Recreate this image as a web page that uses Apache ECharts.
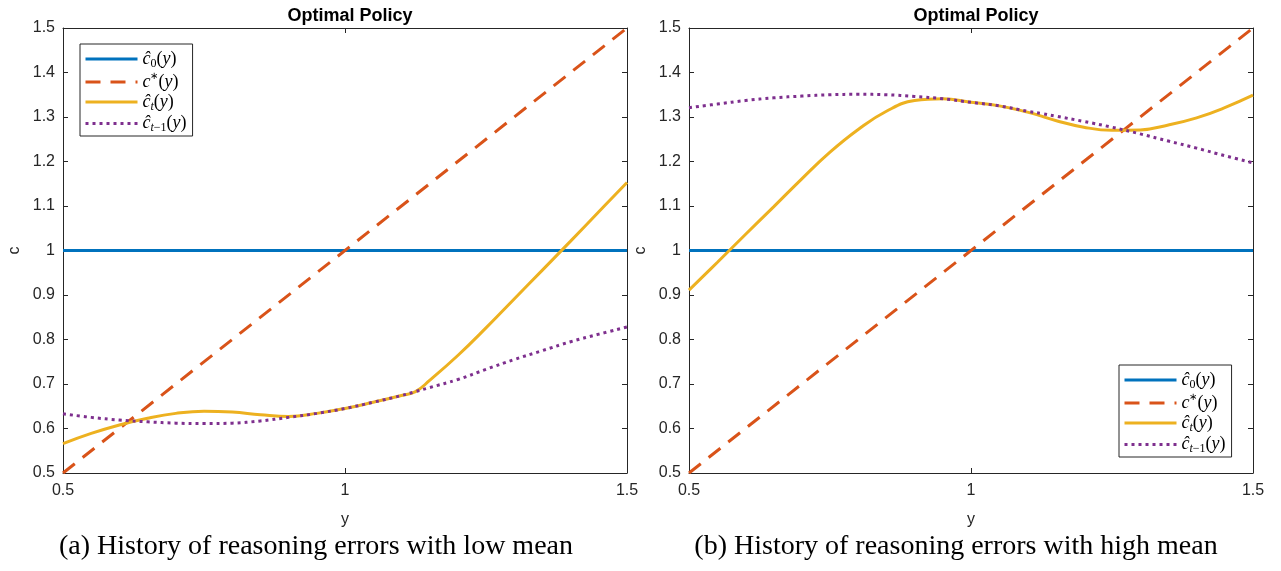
<!DOCTYPE html>
<html>
<head>
<meta charset="utf-8">
<script src="https://cdn.jsdelivr.net/npm/echarts@6/dist/echarts.min.js"></script>
<style>
  html, body { margin: 0; padding: 0; background: #ffffff; }
  #chart { width: 1281px; height: 571px; }
</style>
</head>
<body>
<div id="chart"></div>
<script>
// Income grid y shared by both panels
const yGrid = [0.50, 0.55, 0.60, 0.65, 0.70, 0.75, 0.80, 0.85, 0.90, 0.95, 1.00,
               1.05, 1.10, 1.125, 1.15, 1.20, 1.25, 1.30, 1.35, 1.40, 1.45, 1.50];

// Straight reference policies, given at the two ends of the grid
const lineEnds = [0.5, 1.5];
const c0Ends = [1.0, 1.0];
const cStarEnds = [0.5, 1.5];

// (a) low-mean reasoning errors
const ctLow = [0.566, 0.589, 0.608, 0.623, 0.634, 0.639, 0.637, 0.631, 0.627, 0.634, 0.645,
               0.659, 0.674, 0.683, 0.708, 0.764, 0.826, 0.891, 0.956, 1.021, 1.087, 1.153];
const ctPrevLow = [0.633, 0.625, 0.619, 0.615, 0.612, 0.611, 0.612, 0.617, 0.625, 0.634, 0.645,
                   0.659, 0.674, 0.683, 0.692, 0.710, 0.733, 0.755, 0.775, 0.795, 0.812, 0.828];

// (b) high-mean reasoning errors
const ctHigh = [0.911, 0.973, 1.036, 1.098, 1.161, 1.221, 1.272, 1.313, 1.337, 1.341, 1.333,
                1.325, 1.311, 1.302, 1.292, 1.277, 1.270, 1.271, 1.282, 1.298, 1.321, 1.349];
const ctPrevHigh = [1.321, 1.329, 1.337, 1.343, 1.347, 1.350, 1.351, 1.350, 1.346, 1.341, 1.333,
                    1.325, 1.313, 1.308, 1.302, 1.290, 1.277, 1.262, 1.246, 1.230, 1.213, 1.197];

const xTicks = ['0.5', '1', '1.5'];
const panelTitle = 'Optimal Policy';
const captions = ['(a) History of reasoning errors with low mean',
                  '(b) History of reasoning errors with high mean'];

const seriesNames = ['c0', 'cstar', 'ct', 'ctprev'];
const legendLabels = {
  c0: '{m|ĉ}{subr|0}{r|(}{m|y}{r|)}',
  cstar: '{m|c}{sup|∗}{r|(}{m|y}{r|)}',
  ct: '{m|ĉ}{subi|t}{r|(}{m|y}{r|)}',
  ctprev: '{m|ĉ}{subi|t}{subr|−1}{r|(}{m|y}{r|)}'
};

const COL = { blue: '#0072BD', orange: '#D95319', yellow: '#EDB120', purple: '#7E2F8E' };
const AX = '#262626';
const pairs = (xs, ys) => xs.map((x, i) => [x, ys[i]]);

const grids = [
  { left: 63, top: 28, width: 564, height: 445 },
  { left: 689, top: 28, width: 564, height: 445 }
];

function xAxes(gi) {
  const base = {
    type: 'value', gridIndex: gi, min: 0.5, max: 1.5, interval: 0.5,
    axisLine: { show: true, onZero: false, lineStyle: { color: AX, width: 1 } },
    axisTick: { show: true, inside: true, length: 5, lineStyle: { color: AX } },
    splitLine: { show: false }
  };
  return [
    Object.assign({}, base, {
      position: 'bottom',
      name: 'y', nameLocation: 'middle', nameGap: 39,
      nameTextStyle: { color: AX, fontSize: 16, fontFamily: 'Liberation Sans' },
      axisLabel: { color: AX, fontSize: 16, fontFamily: 'Liberation Sans', margin: 10,
                   formatter: v => xTicks[Math.round((v - 0.5) / 0.5)] }
    }),
    Object.assign({}, base, { position: 'top', axisLabel: { show: false } })
  ];
}

function yAxes(gi) {
  const base = {
    type: 'value', gridIndex: gi, min: 0.5, max: 1.5, interval: 0.1,
    axisLine: { show: true, onZero: false, lineStyle: { color: AX, width: 1 } },
    axisTick: { show: true, inside: true, length: 5, lineStyle: { color: AX } },
    splitLine: { show: false }
  };
  return [
    Object.assign({}, base, {
      position: 'left',
      name: 'c', nameLocation: 'middle', nameGap: 40, nameRotate: 90,
      nameTextStyle: { color: AX, fontSize: 16, fontFamily: 'Liberation Sans' },
      axisLabel: { color: AX, fontSize: 16, fontFamily: 'Liberation Sans', margin: 8,
                   formatter: v => String(Math.round(v * 10) / 10) }
    }),
    Object.assign({}, base, { position: 'right', axisLabel: { show: false } })
  ];
}

function panelSeries(gi, ct, ctPrev) {
  const axes = { xAxisIndex: gi * 2, yAxisIndex: gi * 2 };
  const common = Object.assign({ type: 'line', symbol: 'none', silent: true, animation: false }, axes);
  return [
    Object.assign({}, common, { name: 'c0', data: pairs(lineEnds, c0Ends),
      lineStyle: { color: COL.blue, width: 3 }, itemStyle: { color: COL.blue } }),
    Object.assign({}, common, { name: 'cstar', data: pairs(lineEnds, cStarEnds),
      lineStyle: { color: COL.orange, width: 3, type: [15, 10], cap: 'butt' }, itemStyle: { color: COL.orange } }),
    Object.assign({}, common, { name: 'ct', data: pairs(yGrid, ct), smooth: 0.45,
      lineStyle: { color: COL.yellow, width: 3 }, itemStyle: { color: COL.yellow } }),
    Object.assign({}, common, { name: 'ctprev', data: pairs(yGrid, ctPrev), smooth: 0.45,
      lineStyle: { color: COL.purple, width: 3, type: [3, 4], cap: 'butt' }, itemStyle: { color: COL.purple } })
  ];
}

const legendRich = {
  m: { fontFamily: 'Liberation Serif', fontStyle: 'italic', fontSize: 18, lineHeight: 21, color: '#000' },
  r: { fontFamily: 'Liberation Serif', fontSize: 18, lineHeight: 21, color: '#000' },
  subi: { fontFamily: 'Liberation Serif', fontStyle: 'italic', fontSize: 12, lineHeight: 12,
          verticalAlign: 'bottom', color: '#000' },
  subr: { fontFamily: 'Liberation Serif', fontSize: 12, lineHeight: 12,
          verticalAlign: 'bottom', color: '#000' },
  sup: { fontFamily: 'Liberation Serif', fontSize: 10, lineHeight: 12, verticalAlign: 'top', color: '#000' }
};

function legendAt(left, top) {
  return {
    data: seriesNames, orient: 'vertical', left: left, top: top,
    itemWidth: 52, itemHeight: 14, itemGap: 2,
    padding: [6, 6, 2, 4],
    backgroundColor: '#ffffff', borderColor: AX, borderWidth: 1,
    selectedMode: false,
    itemStyle: { opacity: 0 },
    lineStyle: { width: 3 },
    formatter: name => legendLabels[name],
    textStyle: { rich: legendRich }
  };
}

const titleStyle = { color: '#000', fontSize: 18, fontWeight: 'bold', fontFamily: 'Liberation Sans' };
const captionStyle = { color: '#000', fontSize: 28, fontWeight: 'normal', fontFamily: 'Liberation Serif' };

const option = {
  backgroundColor: '#ffffff',
  animation: false,
  textStyle: { fontFamily: 'Liberation Sans' },
  title: [
    { text: panelTitle, left: 345, top: 2, textAlign: 'center', textStyle: titleStyle },
    { text: panelTitle, left: 971, top: 2, textAlign: 'center', textStyle: titleStyle },
    { text: captions[0], left: 311, top: 528, textAlign: 'center', textStyle: captionStyle },
    { text: captions[1], left: 951, top: 528, textAlign: 'center', textStyle: captionStyle }
  ],
  grid: grids,
  xAxis: xAxes(0).concat(xAxes(1)),
  yAxis: yAxes(0).concat(yAxes(1)),
  legend: [legendAt(80, 44), legendAt(1119, 365)],
  series: panelSeries(0, ctLow, ctPrevLow).concat(panelSeries(1, ctHigh, ctPrevHigh))
};

const chart = echarts.init(document.getElementById('chart'), null, { renderer: 'canvas' });
chart.setOption(option);
</script>
</body>
</html>
